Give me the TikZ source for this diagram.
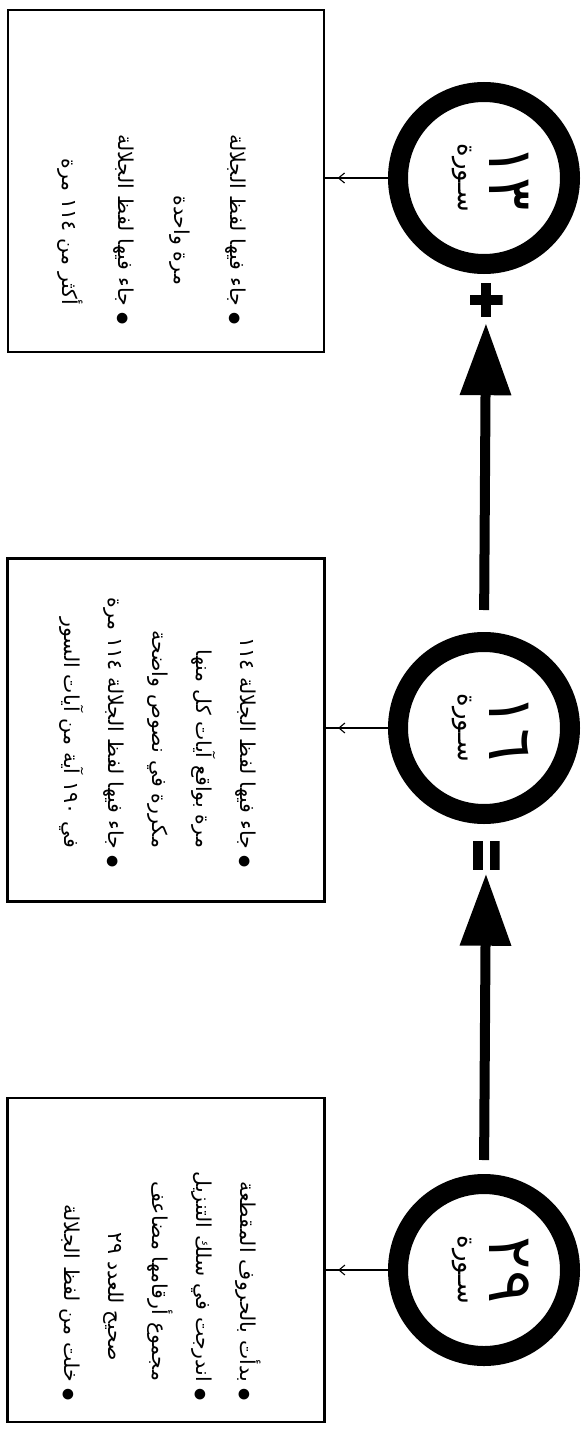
\documentclass[tikz,border=0pt]{standalone}
\usepackage{fontspec}
\newfontfamily\arabicfont[Script=Arabic]{DejaVu Sans}
\TeXXeTstate=1
\usetikzlibrary{arrows.meta,decorations.markings}
\newcommand\blt{{\fontsize{14}{14}\selectfont ●}\ }
\newcommand\ind{\hspace*{20pt}}
\newcommand\arl[1]{\beginR #1\endR}
\newcommand\lnum[1]{\beginL #1\endL}
\begin{document}
\begin{tikzpicture}[x=1pt,y=-1pt,
  box/.style={draw, line width=2.2pt, inner sep=0},
  ring/.style={circle, draw, line width=20pt, minimum size=172pt, inner sep=0, outer sep=10pt},
  txt/.style={rotate=-90, font=\arabicfont\fontsize{20.5}{44}\selectfont, align=right, text width=300pt, inner sep=0},
  num/.style={rotate=-90, font=\arabicfont\fontsize{62}{66}\selectfont, inner sep=0},
  sura/.style={rotate=-90, font=\arabicfont\fontsize{26}{30}\selectfont, inner sep=0},
  link/.style={line width=1.1pt, postaction={decorate},
    decoration={markings, mark=at position 0.8 with {\arrow{Straight Barb[length=6pt,width=10pt]}}}},
  shaft/.style={line width=10pt, -{Triangle[length=72pt,width=49pt]}},
  eqsign/.style={minimum width=27pt, minimum height=29pt, inner sep=0,
    path picture={\fill (path picture bounding box.north west) rectangle ([xshift=10pt]path picture bounding box.south west);
                  \fill ([xshift=-10pt]path picture bounding box.north east) rectangle (path picture bounding box.south east);}},
  plussign/.style={minimum width=33pt, minimum height=34pt, inner sep=0,
    path picture={\fill ([yshift=-5pt]path picture bounding box.west) rectangle ([yshift=5pt]path picture bounding box.east);
                  \fill ([xshift=-5pt]path picture bounding box.north) rectangle ([xshift=5pt]path picture bounding box.south);}}
]
\useasboundingbox (0,0) rectangle (582,1431);
\fill[white] (0,0) rectangle (582,1431);

% boxes
\node[box, minimum width=316pt, minimum height=342pt] (b3) at (166,181) {};
\node[box, minimum width=317pt, minimum height=343pt] (b2) at (166,730) {};
\node[box, minimum width=317pt, minimum height=324pt] (b1) at (166,1260) {};

% circles
\node[ring] (c3) at (484,178) {};
\node[ring] (c2) at (484,728) {};
\node[ring] (c1) at (484,1270) {};

\node[num] (n3) at ([xshift=25pt]c3.center) {١٣};
\node[sura] (s3) at ([xshift=-22pt]c3.center) {سـورة};
\node[num] (n2) at ([xshift=25pt]c2.center) {١٦};
\node[sura] (s2) at ([xshift=-22pt]c2.center) {سـورة};
\node[num] (n1) at ([xshift=25pt]c1.center) {٢٩};
\node[sura] (s1) at ([xshift=-22pt]c1.center) {سـورة};

% signs
\node[eqsign] (eq) at (486,855) {};
\node[plussign] (pl) at (486,300) {};

% thick arrows
\draw[shaft, shorten <=14pt, shorten >=4pt] (c1.north) -- (eq.south);
\draw[shaft, shorten <=22pt, shorten >=6pt] (c2.north) -- (pl.south);

% thin connectors
\draw[link] (c1.west) -- (c1.west -| b1.east);
\draw[link] (c2.west) -- (c2.west -| b2.east);
\draw[link] (c3.west) -- (c3.west -| b3.east);

% texts
\node[txt] (t1) at ([xshift=-6pt,yshift=9pt]b1.center) {%
\arl{\blt بدأت بالحروف المقطعة}\\
\arl{\blt اندرجت في سلك التنزيل}\\
\arl{\ind مجموع أرقامها مضاعف}\\
\arl{\ind\ind صحيح للعدد \lnum{٢٩}}\\
\arl{\blt خلت من لفظ الجلالة}};

\node[txt] (t2) at ([xshift=-8pt,yshift=12pt]b2.center) {%
\arl{\blt جاء فيها لفظ الجلالة \lnum{١١٤}}\\
\arl{\ind مرة بواقع آيات كل منها}\\
\arl{\ind مكررة في نصوص واضحة}\\
\arl{\blt جاء فيها لفظ الجلالة \lnum{١١٤} مرة}\\
\arl{\ind في \lnum{١٩٠} آية من آيات السور}};

\node[txt, font=\arabicfont\fontsize{20.5}{56}\selectfont] (t3) at ([xshift=-14pt,yshift=6pt]b3.center) {%
\arl{\blt جاء فيها لفظ الجلالة}\\
\arl{\ind\ind مرة واحدة}\\
\arl{\blt جاء فيها لفظ الجلالة}\\
\arl{\ind أكثر من \lnum{١١٤} مرة}};
\end{tikzpicture}
\end{document}
